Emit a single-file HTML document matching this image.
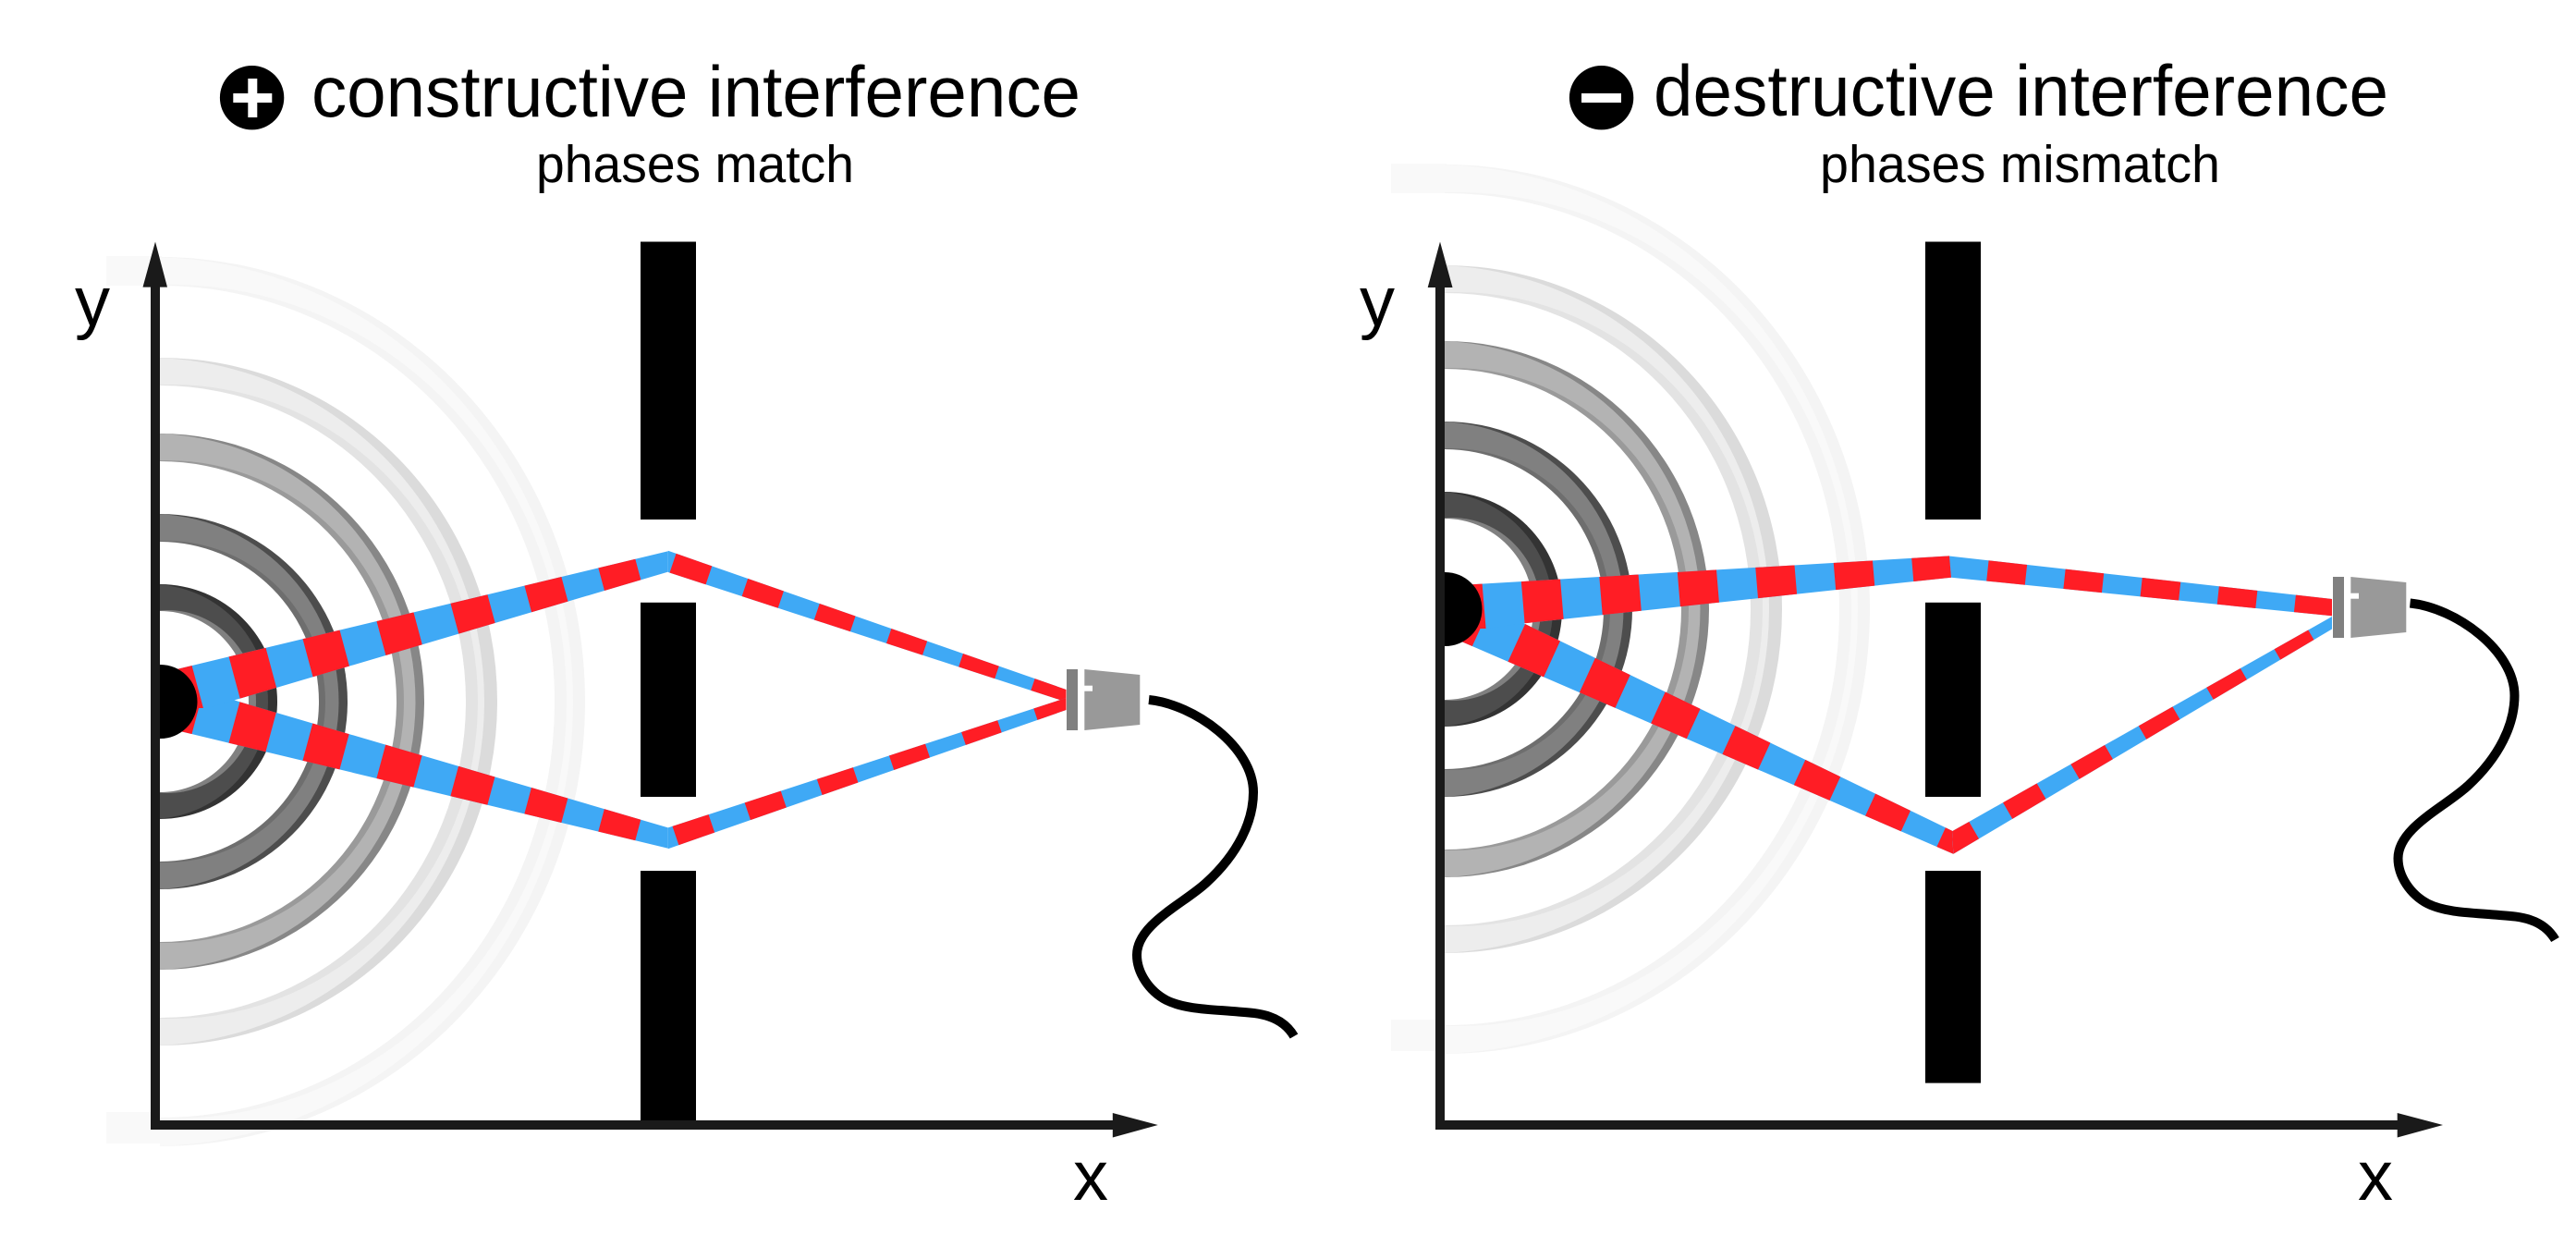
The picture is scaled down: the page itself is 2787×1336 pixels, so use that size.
<!DOCTYPE html>
<html lang="en">
<head>
<meta charset="utf-8">
<title>Constructive and destructive interference</title>
<style>
html,body{margin:0;padding:0;background:#fff;}
svg{display:block;}
text{font-family:"Liberation Sans",sans-serif;fill:#000;}
</style>
</head>
<body>
<svg xmlns="http://www.w3.org/2000/svg" width="2787" height="1336" viewBox="0 0 2787 1336">
<defs>
  <clipPath id="half"><rect x="173" y="0" width="800" height="1336"/></clipPath>
  <clipPath id="a1"><polygon points="186,725.2 722.8,596.3 722.8,618.6 259.3,755.7 225,766 180,766"/></clipPath>
  <clipPath id="b1"><polygon points="186,788.9 722.8,917.7 722.8,895.4 259.3,759.3 225,748 180,748"/></clipPath>
  <clipPath id="a2"><polygon points="722.8,595.8 1153.5,746 1153.5,759.3 722.8,619"/></clipPath>
  <clipPath id="b2"><polygon points="722.8,918.2 1153.5,768 1153.5,755 722.8,895.4"/></clipPath>
  <clipPath id="c1"><polygon points="1575,633.3 2109,601.4 2111,624.7 1649.3,674.3 1608,680 1570,680"/></clipPath>
  <clipPath id="d1"><polygon points="1580,693.5 2113.3,923.7 2112,898.7 1650,675 1612,655 1570,655"/></clipPath>
  <clipPath id="c2"><polygon points="2108.7,601.5 2523,648 2523,666.3 2111,624.7"/></clipPath>
  <clipPath id="d2"><polygon points="2112,899.3 2523,667 2523,680.5 2113.4,923.8"/></clipPath>
  <g id="rings">
    <rect x="115" y="277" width="60" height="32" fill="#f9f9f9"/>
    <rect x="115" y="1203" width="60" height="34" fill="#f9f9f9"/>
    <g clip-path="url(#half)">
      <ellipse cx="173" cy="759" rx="460" ry="481" fill="#f4f4f4"/>
      <ellipse cx="160" cy="759" rx="460" ry="481" fill="#f9f9f9"/>
      <ellipse cx="186" cy="759" rx="427" ry="451" fill="#f4f4f4"/>
      <ellipse cx="173" cy="759" rx="427" ry="450" fill="#fff"/>

      <ellipse cx="173" cy="759" rx="365" ry="372" fill="#dbdbdb"/>
      <ellipse cx="159" cy="759" rx="365" ry="372" fill="#ededed"/>
      <ellipse cx="186" cy="759" rx="331" ry="343" fill="#e3e3e3"/>
      <ellipse cx="173" cy="759" rx="331" ry="342" fill="#fff"/>

      <ellipse cx="173" cy="759" rx="286" ry="290" fill="#878787"/>
      <ellipse cx="163.5" cy="759" rx="286" ry="290" fill="#b3b3b3"/>
      <ellipse cx="181" cy="759" rx="256" ry="261" fill="#9a9a9a"/>
      <ellipse cx="173" cy="759" rx="256" ry="260" fill="#fff"/>

      <ellipse cx="173" cy="759" rx="203" ry="203" fill="#4d4d4d"/>
      <ellipse cx="163.5" cy="759" rx="203" ry="203" fill="#808080"/>
      <ellipse cx="180" cy="759" rx="172" ry="174" fill="#6e6e6e"/>
      <ellipse cx="173" cy="759" rx="172" ry="173" fill="#fff"/>

      <ellipse cx="173" cy="759" rx="127" ry="127" fill="#333"/>
      <ellipse cx="163" cy="759" rx="127" ry="127" fill="#4d4d4d"/>
      <ellipse cx="181" cy="759" rx="96" ry="99" fill="#808080"/>
      <ellipse cx="173" cy="759" rx="96" ry="98" fill="#fff"/>
    </g>
  </g>
  <g id="detector">
    <rect x="1154" y="724" width="12" height="66" fill="#808080"/>
    <polygon points="1173.3,724 1233.3,730 1233.3,784 1173.3,790" fill="#999"/>
    <rect x="1173" y="741.7" width="9" height="6" fill="#fff"/>
  </g>
  <path id="cable" fill="none" stroke="#000" stroke-width="10" d="M1243,757 C1292,762 1356,808 1356,857 C1356,888 1340,923 1305,955 C1280,978 1230,1000 1230,1033 C1230,1052 1243,1072 1262,1082 C1282,1092 1312,1092 1338.6,1094.4 C1360,1096 1386,1097 1400,1121"/>
</defs>

<rect width="2787" height="1336" fill="#fff"/>

<!-- Titles -->
<circle cx="272.6" cy="105.7" r="34.7" fill="#000"/>
<rect x="252.3" y="101" width="42" height="10" fill="#fff"/>
<rect x="268.3" y="85" width="10" height="42" fill="#fff"/>
<text x="337" y="126" font-size="78" textLength="832" lengthAdjust="spacingAndGlyphs">constructive interference</text>
<text x="580" y="197" font-size="57" textLength="344" lengthAdjust="spacingAndGlyphs">phases match</text>

<circle cx="1732.6" cy="105.7" r="34.7" fill="#000"/>
<rect x="1711" y="101" width="43" height="10" fill="#fff"/>
<text x="1789" y="125" font-size="78" textLength="795" lengthAdjust="spacingAndGlyphs">destructive interference</text>
<text x="1969" y="197" font-size="57" textLength="433" lengthAdjust="spacingAndGlyphs">phases mismatch</text>

<!-- Left panel -->
<use href="#rings"/>
<rect x="693" y="261.5" width="60" height="300.5" fill="#000"/>
<rect x="693" y="651.8" width="60" height="210.2" fill="#000"/>
<rect x="693" y="942" width="60" height="272" fill="#000"/>

<g clip-path="url(#a2)"><rect x="700" y="580" width="470" height="200" fill="#3fa9f5"/>
  <line x1="728" y1="609.2" x2="1170" y2="758.6" stroke="#ff1d25" stroke-width="120" stroke-dasharray="41.1 41.1"/></g>
<g clip-path="url(#b2)"><rect x="700" y="740" width="470" height="200" fill="#3fa9f5"/>
  <line x1="731.4" y1="905.4" x2="1170" y2="757.1" stroke="#ff1d25" stroke-width="120" stroke-dasharray="41.1 41.1"/></g>
<g clip-path="url(#b1)"><rect x="170" y="740" width="560" height="190" fill="#3fa9f5"/>
  <line x1="174.1" y1="760" x2="740" y2="911.7" stroke="#ff1d25" stroke-width="120" stroke-dasharray="41.1 41.1"/></g>
<g clip-path="url(#a1)"><rect x="170" y="590" width="560" height="190" fill="#3fa9f5"/>
  <line x1="174.3" y1="754.5" x2="740" y2="602.8" stroke="#ff1d25" stroke-width="120" stroke-dasharray="41.1 41.1"/></g>
<circle cx="173.5" cy="759" r="40" fill="#000" clip-path="url(#half)"/>

<use href="#detector"/>
<use href="#cable"/>

<rect x="163" y="305" width="10" height="917" fill="#1a1a1a"/>
<polygon points="168,261.5 181,310.6 154.5,310.6" fill="#1a1a1a"/>
<rect x="163" y="1212" width="1045" height="10" fill="#1a1a1a"/>
<polygon points="1252.8,1217 1203.8,1204 1203.8,1230.5" fill="#1a1a1a"/>
<text x="81" y="352" font-size="76">y</text>
<text x="1161" y="1298" font-size="76">x</text>

<!-- Right panel -->
<use href="#rings" transform="translate(1390,-100)"/>
<rect x="2083" y="261.5" width="60" height="300.5" fill="#000"/>
<rect x="2083" y="651.8" width="60" height="210.2" fill="#000"/>
<rect x="2083" y="942" width="60" height="229.6" fill="#000"/>

<g clip-path="url(#c2)"><rect x="2100" y="590" width="430" height="90" fill="#3fa9f5"/>
  <line x1="2150.4" y1="617.3" x2="2540" y2="658.8" stroke="#ff1d25" stroke-width="120" stroke-dasharray="41.8 41.8"/></g>
<g clip-path="url(#d2)"><rect x="2100" y="660" width="430" height="270" fill="#3fa9f5"/>
  <line x1="2099.2" y1="919.3" x2="2540" y2="664.5" stroke="#ff1d25" stroke-width="120" stroke-dasharray="42.15 42.15"/></g>
<g clip-path="url(#d1)"><rect x="1560" y="650" width="560" height="280" fill="#3fa9f5"/>
  <line x1="1564.2" y1="660.4" x2="2120" y2="914.4" stroke="#ff1d25" stroke-width="120" stroke-dasharray="42.1 42.1"/></g>
<g clip-path="url(#c1)"><rect x="1560" y="595" width="560" height="90" fill="#3fa9f5"/>
  <line x1="1563.4" y1="658.6" x2="2115" y2="612.7" stroke="#ff1d25" stroke-width="120" stroke-dasharray="42.3 42.3"/></g>
<g transform="translate(1390,-100)"><circle cx="173.5" cy="759" r="40" fill="#000" clip-path="url(#half)"/></g>

<use href="#detector" transform="translate(1370,-100)"/>
<use href="#cable" transform="translate(1364.5,-104.5)"/>

<rect x="1553" y="305" width="10" height="917" fill="#1a1a1a"/>
<polygon points="1558,261.5 1571.5,311 1544.7,311" fill="#1a1a1a"/>
<rect x="1553" y="1212" width="1045" height="10" fill="#1a1a1a"/>
<polygon points="2643,1217 2593.7,1204 2593.7,1230.5" fill="#1a1a1a"/>
<text x="1471" y="352" font-size="76">y</text>
<text x="2551" y="1298" font-size="76">x</text>
</svg>
</body>
</html>
